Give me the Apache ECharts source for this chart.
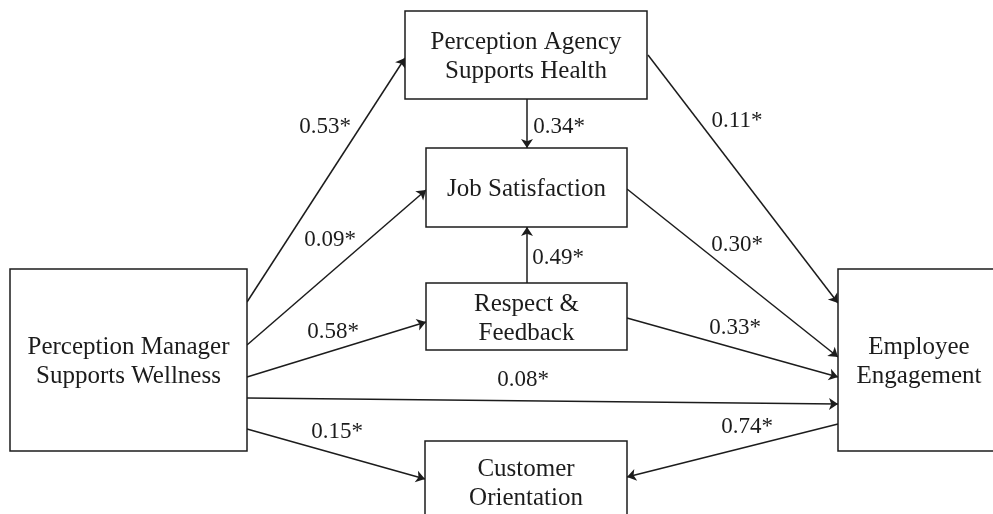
<!DOCTYPE html>
<html>
<head>
<meta charset="utf-8">
<script src="https://cdn.jsdelivr.net/npm/echarts@6/dist/echarts.min.js"></script>
<style>
  html, body { margin: 0; padding: 0; background: #fff; }
  #diagrama { width: 993px; height: 514px; }
</style>
</head>
<body>
<div id="diagrama"></div>
<script>
// Construct boxes (text) and their frames in diagram units (x0, y0, x1, y1)
const boxText = [
  'Perception Manager\nSupports Wellness',
  'Perception Agency\nSupports Health',
  'Job Satisfaction',
  'Respect &\nFeedback',
  'Customer\nOrientation',
  'Employee\nEngagement',
];
const boxFrame = [
  [10, 269, 247, 451],
  [405, 11, 647, 99],
  [426, 148, 627, 227],
  [426, 283, 627, 350],
  [425, 441, 627, 522],
  [838, 269, 1000, 451],
];

// Path coefficients
const coefText = ['0.53*', '0.09*', '0.58*', '0.08*', '0.15*', '0.34*', '0.49*', '0.11*', '0.30*', '0.33*', '0.74*'];
const coefPos = [
  [325, 127], [330, 240], [333, 332], [523, 380], [337, 432],
  [559, 127], [558, 258], [737, 121], [737, 245], [735, 328], [747, 427],
];
// Arrows: from (x0, y0) to (x1, y1), head at the end
const arrowPath = [
  [247, 302, 405, 58],
  [247, 345, 426, 190],
  [247, 377, 426, 322],
  [247, 398, 838, 404],
  [247, 429, 425, 479],
  [527, 99, 527, 148],
  [527, 283, 527, 227],
  [648, 55, 838, 303],
  [627, 189, 838, 357],
  [627, 318, 838, 377],
  [838, 424, 627, 477],
];

var dom = document.getElementById('diagrama');
var myChart = echarts.init(dom, null, { renderer: 'canvas' });

var ink = '#1c1c1c';
var serif = '"Liberation Serif", "Times New Roman", serif';

var option = {
  backgroundColor: '#fff',
  animation: false,
  grid: { left: 0, right: 0, top: 0, bottom: 0 },
  xAxis: { type: 'value', min: 0, max: 993, show: false },
  yAxis: { type: 'value', min: 0, max: 514, inverse: true, show: false },
  series: [
    {
      type: 'lines',
      coordinateSystem: 'cartesian2d',
      z: 2,
      symbol: ['none', 'arrow'],
      symbolSize: 9,
      lineStyle: { color: ink, width: 1.5, opacity: 1 },
      data: arrowPath.map(function (p) {
        return { coords: [[p[0], p[1]], [p[2], p[3]]] };
      }),
    },
    {
      type: 'custom',
      z: 3,
      renderItem: function (params, api) {
        var a = api.coord([api.value(0), api.value(1)]);
        var b = api.coord([api.value(2), api.value(3)]);
        return {
          type: 'group',
          children: [
            {
              type: 'rect',
              shape: { x: a[0], y: a[1], width: b[0] - a[0], height: b[1] - a[1] },
              style: { fill: '#fff', stroke: ink, lineWidth: 1.5 },
            },
            {
              type: 'text',
              x: (a[0] + b[0]) / 2,
              y: (a[1] + b[1]) / 2 + 2,
              style: {
                text: boxText[params.dataIndex],
                fill: ink,
                font: '25px ' + serif,
                lineHeight: 29,
                align: 'center',
                verticalAlign: 'middle',
              },
            },
          ],
        };
      },
      data: boxFrame,
    },
    {
      type: 'custom',
      z: 4,
      renderItem: function (params, api) {
        var p = api.coord([api.value(0), api.value(1)]);
        return {
          type: 'text',
          x: p[0],
          y: p[1],
          style: {
            text: coefText[params.dataIndex],
            fill: ink,
            font: '23px ' + serif,
            align: 'center',
            verticalAlign: 'middle',
          },
        };
      },
      data: coefPos,
    },
  ],
};

myChart.setOption(option);
window.addEventListener('resize', myChart.resize);
</script>
</body>
</html>
